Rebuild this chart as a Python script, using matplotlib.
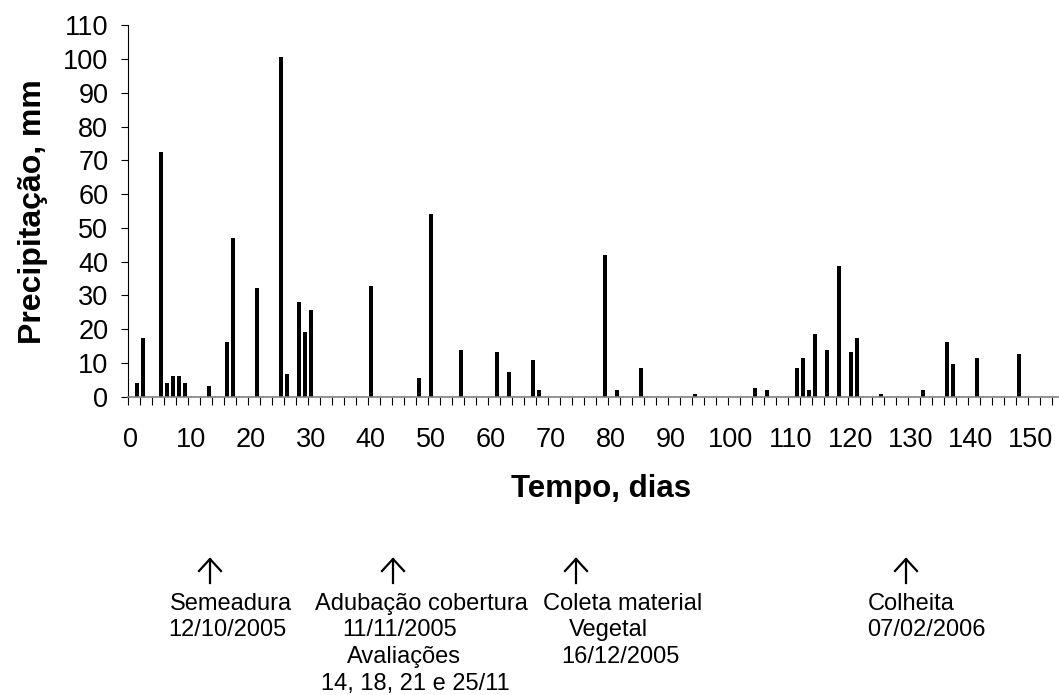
import matplotlib.pyplot as plt
import numpy as np

# Daily rainfall (day after sowing, mm)
days = [1, 2, 5, 6, 7, 8, 9, 13, 16, 17, 21, 25, 26, 28, 29, 30, 40, 48, 50,
        55, 61, 63, 67, 68, 79, 81, 85, 94, 104, 106,
        111, 112, 113, 114, 116, 118, 120, 121, 125, 132, 136, 137, 141, 148]
rain = [4.2, 17.3, 72.4, 4.2, 6.0, 6.0, 4.2, 3.1, 16.1, 46.9, 32.1, 100.7, 6.6, 27.9, 19.1, 25.6, 32.7, 5.4, 54.0,
        13.7, 13.1, 7.3, 10.8, 1.9, 42.1, 1.9, 8.4, 0.7, 2.5, 1.9,
        8.4, 11.4, 1.9, 18.5, 13.7, 38.6, 13.1, 17.3, 0.7, 1.9, 16.1, 9.6, 11.4, 12.5]

x_labels = list(range(0, 151, 10))
y_labels = list(range(0, 111, 10))

# events marked under the chart
event_lines = [
    ["Semeadura", "12/10/2005"],
    ["Adubação cobertura", "11/11/2005", "Avaliações", "14, 18, 21 e 25/11"],
    ["Coleta material", "Vegetal", "16/12/2005"],
    ["Colheita", "07/02/2006"],
]
# layout in pixels: arrow x, and per-line text centre x
arrow_px = [210, 393, 576, 906]
line_cx = [[231, 227], [421, 400, 404, 415], [623, 608, 620], [911, 926]]
line_base = [610, 636, 663, 690]

plt.rcParams['font.family'] = ['Liberation Sans', 'DejaVu Sans']

W, H = 1059, 695
fig = plt.figure(figsize=(W / 100, H / 100), dpi=100)
ax = fig.add_axes([127.7 / W, 298.3 / H, 930 / W, 371.4 / H])

ax.bar(days, rain, width=0.65, color='black')

ax.set_xlim(-0.5, 154.5)
ax.set_ylim(0, 110)
ax.set_yticks(y_labels)
ax.set_xticks(x_labels)
ax.set_xticks(np.arange(-0.5, 154.5, 2), minor=True)
ax.tick_params(axis='x', which='major', length=0, pad=22, labelsize=19.5)
ax.tick_params(axis='x', which='minor', length=6, width=0.8, color='black', direction='out')
ax.tick_params(axis='y', length=5, width=0.8, pad=9, labelsize=19.5)

for s in ['top', 'right']:
    ax.spines[s].set_visible(False)
ax.spines['left'].set_linewidth(0.8)
ax.spines['bottom'].set_color('#808080')
ax.spines['bottom'].set_linewidth(1.2)

fig.text(33 / W, 1 - 212 / H, "Precipitação, mm", rotation=90, fontsize=23,
         fontweight='bold', ha='center', va='center')
fig.text(601 / W, 1 - 497 / H, "Tempo, dias", fontsize=22.5, fontweight='bold',
         ha='center', va='baseline')

for ax_x, lines, cxs in zip(arrow_px, event_lines, line_cx):
    fig.add_artist(plt.Line2D([ax_x / W, ax_x / W], [1 - 583 / H, 1 - 559 / H],
                              color='black', lw=1.6))
    fig.add_artist(plt.Line2D([(ax_x - 11) / W, ax_x / W, (ax_x + 11) / W],
                              [1 - 571 / H, 1 - 559 / H, 1 - 571 / H],
                              color='black', lw=1.6))
    for txt, cx, by in zip(lines, cxs, line_base):
        fig.text(cx / W, 1 - by / H, txt, fontsize=17, ha='center', va='baseline')

fig.savefig("out.png", dpi=100)
